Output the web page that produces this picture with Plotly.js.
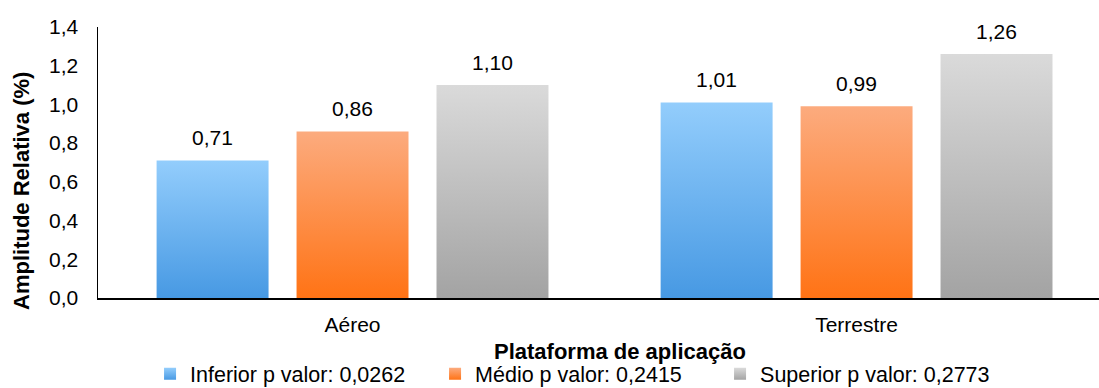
<!DOCTYPE html>
<html>
<head>
<meta charset="utf-8">
<script src="https://cdn.plot.ly/plotly-3.0.1.min.js"></script>
<style>
html,body{margin:0;padding:0;background:#fff;}
#chart{width:1099px;height:388px;}
</style>
</head>
<body>
<div id="chart"></div>
<script>
// ---- data ----
const categories = ["Aéreo", "Terrestre"];
const seriesNames = ["Inferior p valor: 0,0262", "Médio p valor: 0,2415", "Superior p valor: 0,2773"];
const inferior = [0.71, 1.01];
const medio = [0.86, 0.99];
const superior = [1.10, 1.26];
const yTickVals = [0, 0.2, 0.4, 0.6, 0.8, 1.0, 1.2, 1.4];
const xTitle = "Plataforma de aplicação";
const yTitle = "Amplitude Relativa (%)";

// ---- style ----
const FONT = "Liberation Sans, Arial, sans-serif";
const gradients = [
  ["#93CDFC", "#4799E3"],
  ["#FCAB7E", "#FF7315"],
  ["#DADADA", "#A3A3A3"]
];
const midColors = ["#6FB3F0", "#FE904A", "#C0C0C0"];
const bargap = 0.167;
const bargroupgap = 0.2;
const slot = (1 - bargap) / 3;

const allSeries = [inferior, medio, superior];
const traces = allSeries.map((vals, i) => ({
  type: "bar",
  name: seriesNames[i],
  x: categories,
  y: vals,
  marker: {color: midColors[i], line: {width: 0}},
  hoverinfo: "none"
}));

const annotations = [];
allSeries.forEach((vals, i) => {
  vals.forEach((v, j) => {
    annotations.push({
      xref: "x", yref: "y",
      x: j + (i - 1) * slot,
      y: v,
      text: v.toFixed(2).replace(".", ","),
      showarrow: false,
      xanchor: "center", yanchor: "middle",
      yshift: 23,
      font: {family: FONT, size: 21, color: "#000"}
    });
  });
});
annotations.push({
  xref: "paper", yref: "paper", x: 0, y: 0.395, xshift: -76,
  text: "<b>" + yTitle + "</b>", textangle: -90, showarrow: false,
  xanchor: "center", yanchor: "middle",
  font: {family: FONT, size: 22, color: "#000"}
});
annotations.push({
  xref: "paper", yref: "paper", x: 0.521, y: -0.199,
  text: "<b>" + xTitle + "</b>", showarrow: false,
  xanchor: "center", yanchor: "middle",
  font: {family: FONT, size: 22, color: "#000"}
});

const layout = {
  width: 1099, height: 388,
  margin: {l: 98, r: 0, t: 27, b: 90, autoexpand: false},
  paper_bgcolor: "#fff", plot_bgcolor: "#fff",
  separators: ",.",
  barmode: "group",
  bargap: bargap,
  bargroupgap: bargroupgap,
  font: {family: FONT, size: 21, color: "#000"},
  showlegend: true,
  legend: {
    orientation: "h",
    x: 0.052, xanchor: "left",
    y: -0.28, yanchor: "middle",
    font: {family: FONT, size: 21.5, color: "#000"},
    entrywidth: 240, entrywidthmode: "pixels",
    traceorder: "normal"
  },
  xaxis: {
    type: "category",
    range: [-0.505, 1.481],
    showline: true, linecolor: "#000", linewidth: 1.5,
    showgrid: false, zeroline: false, ticks: "",
    ticklabelstandoff: 7,
    tickfont: {family: FONT, size: 21, color: "#000"},
    fixedrange: true
  },
  yaxis: {
    range: [0, 1.4],
    tickvals: yTickVals,
    tickformat: ".1f",
    showline: true, linecolor: "#000", linewidth: 1.5,
    showgrid: false, zeroline: false, ticks: "",
    ticklabelstandoff: 14,
    tickfont: {family: FONT, size: 21, color: "#000"},
    fixedrange: true
  },
  annotations: annotations
};

Plotly.newPlot("chart", traces, layout, {staticPlot: true, displayModeBar: false}).then(gd => {
  const svg = gd.querySelector("svg.main-svg");
  const defs = svg.querySelector("defs");
  const NS = "http://www.w3.org/2000/svg";
  gradients.forEach((g, i) => {
    const lg = document.createElementNS(NS, "linearGradient");
    lg.setAttribute("id", "bargrad" + i);
    lg.setAttribute("x1", "0"); lg.setAttribute("y1", "0");
    lg.setAttribute("x2", "0"); lg.setAttribute("y2", "1");
    const s1 = document.createElementNS(NS, "stop");
    s1.setAttribute("offset", "0"); s1.setAttribute("stop-color", g[0]);
    const s2 = document.createElementNS(NS, "stop");
    s2.setAttribute("offset", "1"); s2.setAttribute("stop-color", g[1]);
    lg.appendChild(s1); lg.appendChild(s2);
    defs.appendChild(lg);
  });
  gd.querySelectorAll(".barlayer .trace").forEach((tr, i) => {
    tr.querySelectorAll("path").forEach(p => { p.style.fill = "url(#bargrad" + i + ")"; });
  });
  gd.querySelectorAll(".legend .traces").forEach((tr, i) => {
    tr.querySelectorAll(".legendpoints path").forEach(p => { p.style.fill = "url(#bargrad" + i + ")"; p.style.stroke = "none"; });
  });
});
</script>
</body>
</html>
